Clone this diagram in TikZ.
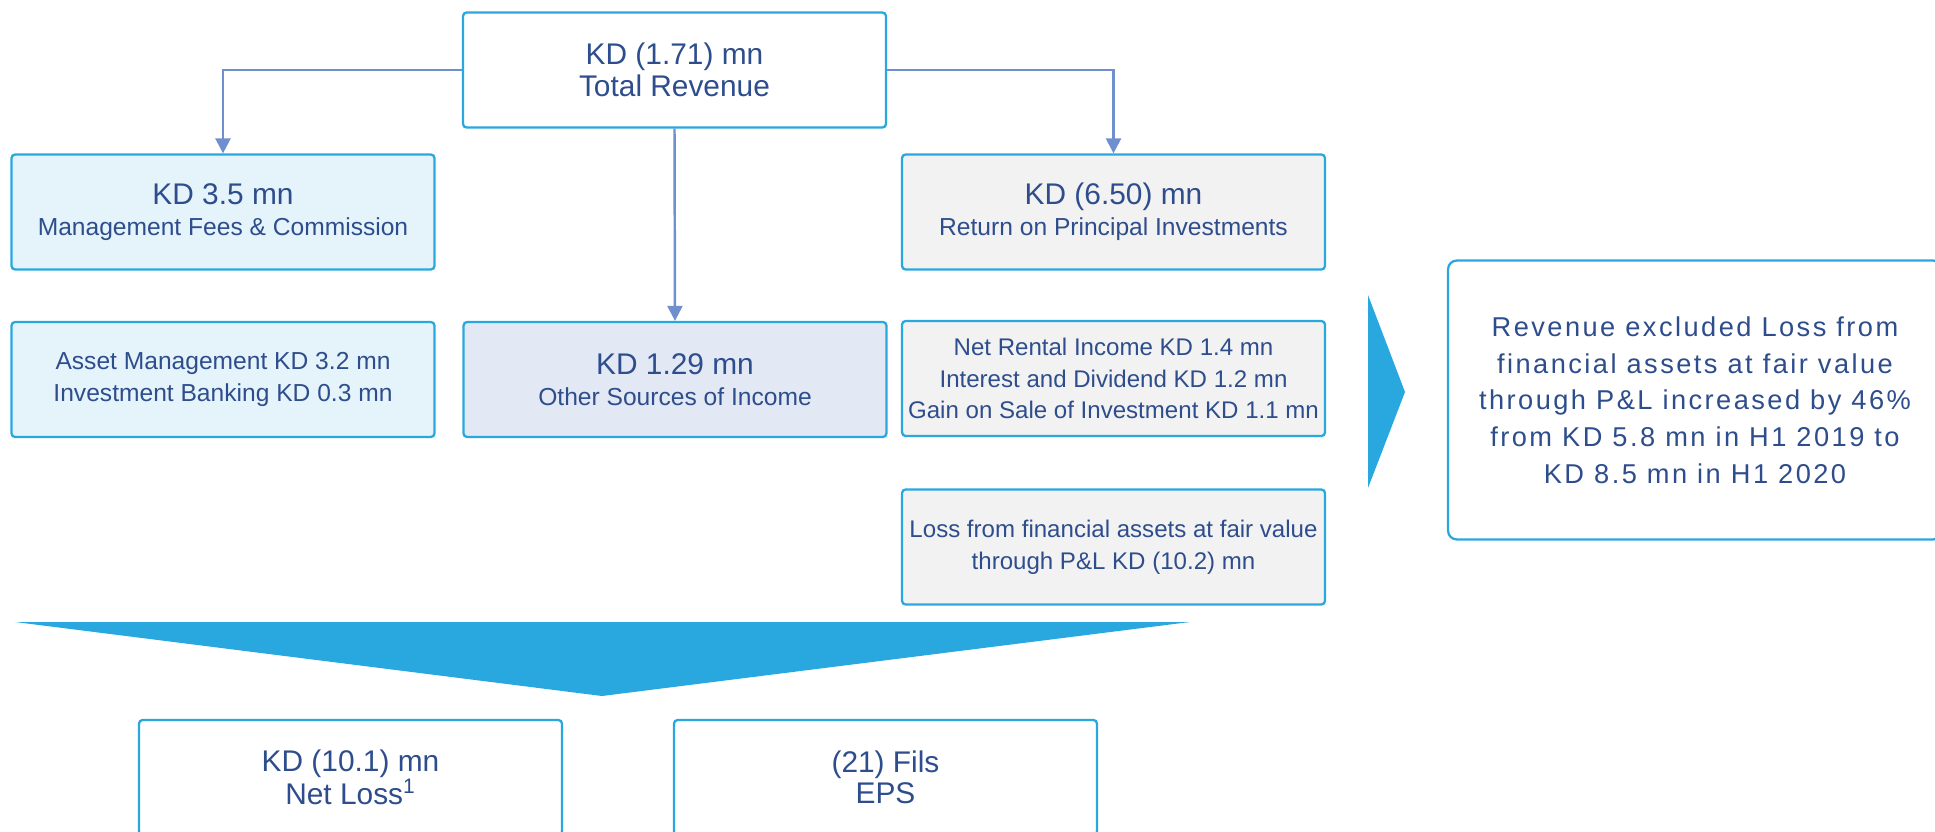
\documentclass[tikz,border=0pt]{standalone}
\usepackage{fontspec}
\setmainfont{Liberation Sans}
\usetikzlibrary{arrows.meta}

\definecolor{txtblue}{HTML}{2E4D8C}
\definecolor{edgecyan}{HTML}{29A8E0}
\definecolor{linkblue}{HTML}{6F8FCF}
\definecolor{feefill}{HTML}{E5F3FB}
\definecolor{otherfill}{HTML}{E2E8F4}
\definecolor{greyfill}{HTML}{F2F2F2}

\newcommand{\kdbig}{\fontsize{17}{17.6}\selectfont}

\begin{document}
\begin{tikzpicture}[
  x=0.02cm, y=-0.02cm,
  link/.style={draw=linkblue, line width=1.4pt, -{Triangle[width=8.5pt,length=8.5pt]}},
  pointer/.style={fill=edgecyan, draw=none}
]
\tikzstyle{card}=[draw=edgecyan, line width=1.3pt, rounded corners=2pt, minimum width=8.46cm, minimum height=2.3cm, align=center, text=txtblue, inner sep=0pt, fill=white, font=\fontsize{14}{17.6}\selectfont]
\useasboundingbox (0,0) rectangle (1935,832);
\clip (0,0) rectangle (1935,832);

% Revenue split
\node [card, font=\fontsize{17}{18.1}\selectfont] (rev) at (674.5,70) {KD (1.71) mn\\Total Revenue};
\node [card, fill=feefill] (fees) at (223,212) {{\kdbig KD 3.5 mn}\\Management Fees \& Commission};
\node [card, fill=feefill, font=\fontsize{14}{18.7}\selectfont] (asset) at (223,379.5) {Asset Management KD 3.2 mn\\Investment Banking KD 0.3 mn};
\node [card, fill=otherfill] (other) at (675,379.5) {{\kdbig KD 1.29 mn}\\Other Sources of Income};
\node [card, fill=greyfill] (ret) at (1113.5,212) {{\kdbig KD (6.50) mn}\\Return on Principal Investments};
\node [card, fill=greyfill, font=\fontsize{13.7}{18}\selectfont] (rental) at (1113.5,378.5) {Net Rental Income KD 1.4 mn\\Interest and Dividend KD 1.2 mn\\Gain on Sale of Investment KD 1.1 mn};
\node [card, fill=greyfill, font=\fontsize{13.7}{18}\selectfont] (lossfv) at (1113.5,547) {Loss from financial assets at fair value\\through P\&L KD (10.2) mn};

\draw [link] (rev.west) -| (fees.north);
\draw [link] (rev.east) -| (ret.north);
\draw [link] (rev.south) -- (other.north);

% Pointers
\fill [pointer] (1368,295) -- (1405,392) -- (1368,488) -- cycle;
\fill [pointer] (15,622) -- (1190,622) -- (602,696) -- cycle;

% Summary and results
\node [card, rounded corners=5pt, minimum width=9.88cm, minimum height=5.58cm, font=\fontsize{15.5}{20.9}\selectfont\addfontfeatures{LetterSpace=9}] (summary) at (1695,400) {Revenue excluded Loss from\\financial assets at fair value\\through P\&L increased by 46\%\\from KD 5.8 mn in H1 2019 to\\KD 8.5 mn in H1 2020};
\node [card, font=\fontsize{17}{17.6}\selectfont] (netloss) at (350.5,777.5) {KD (10.1) mn\\Net Loss\textsuperscript{1}};
\node [card, font=\fontsize{17}{17.6}\selectfont] (eps) at (885.5,777.5) {(21) Fils\\EPS};

\end{tikzpicture}
\end{document}
